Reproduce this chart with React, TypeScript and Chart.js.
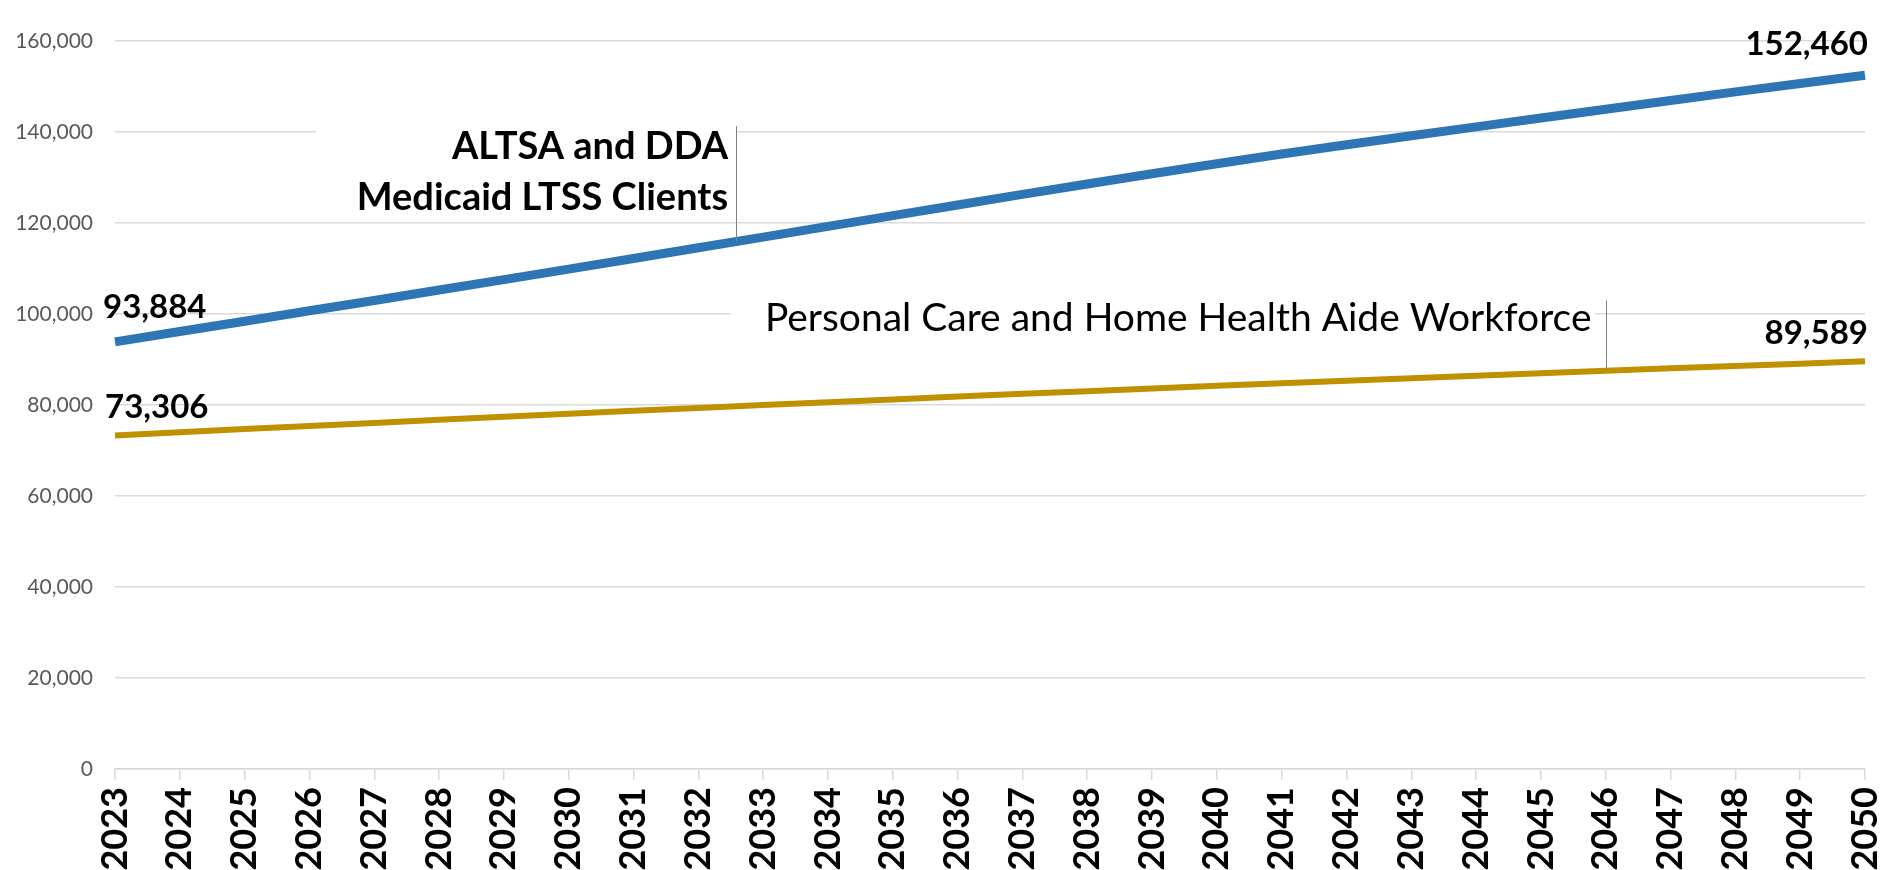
import React, { useEffect, useRef } from 'react';
import { Chart, registerables } from 'chart.js';

Chart.register(...registerables);

const years = [
  '2023', '2024', '2025', '2026', '2027', '2028', '2029', '2030', '2031', '2032',
  '2033', '2034', '2035', '2036', '2037', '2038', '2039', '2040', '2041', '2042',
  '2043', '2044', '2045', '2046', '2047', '2048', '2049', '2050',
];

const clients = [
  93884, 96150, 98420, 100700, 102980, 105260, 107560, 109870, 112200, 114550,
  116900, 119260, 121620, 123960, 126280, 128580, 130820, 133020, 135180, 137200,
  139170, 141120, 143060, 144990, 146910, 148810, 150650, 152460,
];

const workforce = [
  73306, 74010, 74700, 75390, 76070, 76740, 77410, 78070, 78720, 79360,
  79990, 80620, 81230, 81850, 82450, 83040, 83630, 84210, 84780, 85350,
  85900, 86450, 87000, 87530, 88060, 88580, 89090, 89589,
];

const yTicks = [0, 20000, 40000, 60000, 80000, 100000, 120000, 140000, 160000];

const clientsTitle = ['ALTSA and DDA', 'Medicaid LTSS Clients'];
const workforceTitle = ['Personal Care and Home Health Aide Workforce'];

const BLUE = '#2E75B6';
const GOLD = '#BF9000';
const GRID = '#d9d9d9';
const FONT = 'Lato, "Open Sans", sans-serif';

const fmt = (v: number) => v.toLocaleString('en-US');

// annotation layout, expressed in axis units (x = category index, y = value)
const notes = [
  {
    lines: clientsTitle,
    weight: 'bold',
    size: 38,
    textRight: 9.46,
    baselines: [134050, 122850],
    box: [3.1, 9.6, 143100, 120250],
    leaderX: 9.58,
    leaderTop: 141300,
    series: clients,
  },
  {
    lines: workforceTitle,
    weight: 'normal',
    size: 39,
    textRight: 22.78,
    baselines: [96250],
    box: [9.49, 22.84, 104000, 93200],
    leaderX: 23,
    leaderTop: 102960,
    series: workforce,
  },
];

const valueLabels = [
  { series: clients, index: 0, align: 'left', dx: -12, dy: -24 },
  { series: clients, index: clients.length - 1, align: 'right', dx: 3, dy: -20 },
  { series: workforce, index: 0, align: 'left', dx: -10, dy: -17 },
  { series: workforce, index: workforce.length - 1, align: 'right', dx: 3, dy: -17 },
];

const interp = (arr: number[], t: number) => {
  const i = Math.floor(t);
  const f = t - i;
  if (i >= arr.length - 1) return arr[arr.length - 1];
  return arr[i] + (arr[i + 1] - arr[i]) * f;
};

const overlayPlugin = {
  id: 'overlay',
  beforeDatasetsDraw(chart: any) {
    const { ctx, scales } = chart;
    const x = scales.x;
    const y = scales.y;
    ctx.save();
    ctx.fillStyle = '#ffffff';
    for (const n of notes) {
      const l = x.getPixelForValue(n.box[0]);
      const r = x.getPixelForValue(n.box[1]);
      const t = y.getPixelForValue(n.box[2]);
      const b = y.getPixelForValue(n.box[3]);
      ctx.fillRect(l, t, r - l, b - t);
    }
    ctx.restore();
  },
  afterDatasetsDraw(chart: any) {
    const { ctx, scales } = chart;
    const x = scales.x;
    const y = scales.y;
    ctx.save();
    for (const n of notes) {
      // leader line
      const lx = Math.round(x.getPixelForValue(n.leaderX)) + 0.5;
      ctx.strokeStyle = '#808080';
      ctx.lineWidth = 1;
      ctx.beginPath();
      ctx.moveTo(lx, y.getPixelForValue(n.leaderTop));
      ctx.lineTo(lx, y.getPixelForValue(interp(n.series, n.leaderX)));
      ctx.stroke();
      // text
      ctx.fillStyle = '#000000';
      ctx.font = `${n.weight} ${n.size}px ${FONT}`;
      ctx.textAlign = 'right';
      ctx.textBaseline = 'alphabetic';
      const tx = x.getPixelForValue(n.textRight);
      n.lines.forEach((line, i) => {
        ctx.fillText(line, tx, y.getPixelForValue(n.baselines[i]));
      });
    }
    ctx.font = `bold 33px ${FONT}`;
    ctx.fillStyle = '#000000';
    ctx.textBaseline = 'alphabetic';
    for (const v of valueLabels) {
      const px = x.getPixelForValue(v.index);
      const py = y.getPixelForValue(v.series[v.index]);
      ctx.textAlign = v.align as CanvasTextAlign;
      ctx.fillText(fmt(v.series[v.index]), px + v.dx, py + v.dy);
    }
    ctx.restore();
  },
};

export default function App() {
  const canvasRef = useRef<HTMLCanvasElement | null>(null);

  useEffect(() => {
    const canvas = canvasRef.current;
    if (!canvas) return;
    const chart = new Chart(canvas, {
      type: 'line',
      data: {
        labels: years,
        datasets: [
          {
            label: 'ALTSA and DDA Medicaid LTSS Clients',
            data: clients,
            borderColor: BLUE,
            backgroundColor: BLUE,
            borderWidth: 9,
            pointRadius: 0,
            tension: 0,
          },
          {
            label: 'Personal Care and Home Health Aide Workforce',
            data: workforce,
            borderColor: GOLD,
            backgroundColor: GOLD,
            borderWidth: 6,
            pointRadius: 0,
            tension: 0,
          },
        ],
      },
      options: {
        animation: false,
        responsive: true,
        maintainAspectRatio: false,
        devicePixelRatio: 1,
        layout: { padding: { top: 41, right: 18, bottom: 0, left: 0 } },
        plugins: {
          legend: { display: false },
          tooltip: { enabled: false },
        },
        scales: {
          x: {
            type: 'category',
            offset: false,
            grid: {
              drawOnChartArea: false,
              drawTicks: true,
              tickLength: 11,
              color: GRID,
              lineWidth: 1.5,
            },
            border: { display: true, color: GRID, width: 1.5 },
            ticks: {
              autoSkip: false,
              maxRotation: 90,
              minRotation: 90,
              padding: 7,
              color: '#000000',
              font: { family: FONT, size: 36, weight: 'bold' },
            },
            afterFit: (scale: any) => {
              scale.height = 101;
              scale.paddingLeft = 0;
              scale.paddingRight = 0;
            },
          },
          y: {
            min: 0,
            max: 160000,
            afterBuildTicks: (scale: any) => {
              scale.ticks = yTicks.map((v) => ({ value: v }));
            },
            grid: {
              color: GRID,
              lineWidth: 1.5,
              drawTicks: false,
            },
            border: { display: false },
            ticks: {
              padding: 22,
              color: '#595959',
              font: { family: FONT, size: 21 },
              callback: (v: any) => fmt(Number(v)),
            },
            afterFit: (scale: any) => {
              scale.width = 115;
            },
          },
        },
      },
      plugins: [overlayPlugin],
    });
    return () => chart.destroy();
  }, []);

  return (
    <div style={{ position: 'fixed', left: 0, top: 0, width: 1883, height: 870, background: '#ffffff' }}>
      <canvas ref={canvasRef} />
    </div>
  );
}
